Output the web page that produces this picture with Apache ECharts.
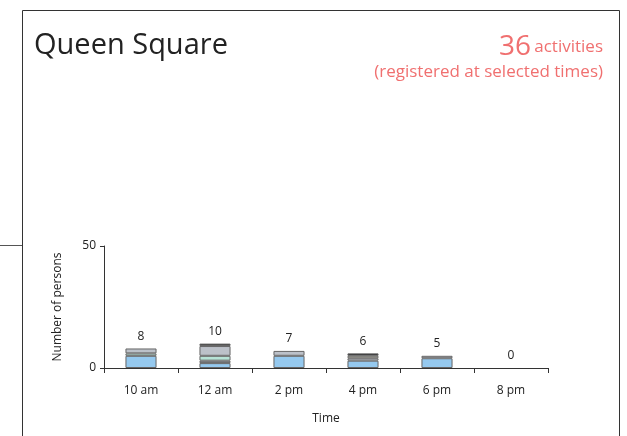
<!DOCTYPE html>
<html><head><meta charset="utf-8">
<script src="https://cdn.jsdelivr.net/npm/echarts@6/dist/echarts.min.js"></script>
<style>html,body{margin:0;padding:0;background:#fff}#c{width:627px;height:436px}</style>
</head><body><div id="c"></div>
<script>
const categories = ['10 am', '12 am', '2 pm', '4 pm', '6 pm', '8 pm'];
const blue     = [5, 2, 5, 3, 4, 0];
const darkgray = [0, 1, 0, 0, 0, 0];
const teal     = [1, 2, 0, 0, 0, 0];
const gray     = [2, 4, 2, 1, 1, 0];
const cream    = [0, 0, 0, 1, 0, 0];
const black    = [0, 1, 0, 1, 0, 0];
const totals   = [8, 10, 7, 6, 5, 0];
const yTicks   = [0, 50];

const font = 'Open Sans';
const layers = [
  ['blue', blue, '#95c9ef'],
  ['darkgray', darkgray, '#8a949e'],
  ['teal', teal, '#b7e3d6'],
  ['gray', gray, '#bcc1c9'],
  ['cream', cream, '#f2eed2'],
  ['black', black, '#222222']
];
const series = layers.map(([name, data, color]) => ({
  name, type: 'bar', stack: 's', data: data.map(v => (v === 0 ? null : v)), barWidth: '42%',
  itemStyle: { color, borderColor: '#666', borderWidth: 1 },
  emphasis: { disabled: true }, silent: true
}));
series.push({
  name: 'total', type: 'bar', stack: 's', data: totals.map(() => 0), barWidth: '42%',
  itemStyle: { color: 'transparent', borderWidth: 0 }, silent: true,
  label: { show: true, position: 'top', distance: 6, color: '#222', fontSize: 12, fontFamily: font,
           formatter: p => String(totals[p.dataIndex]) }
});

const chart = echarts.init(document.getElementById('c'), null, { renderer: 'canvas' });
chart.setOption({
  animation: false,
  backgroundColor: '#fff',
  grid: { left: 104, right: 79, top: 246, bottom: 68 },
  xAxis: {
    type: 'category', data: categories, name: 'Time', nameLocation: 'middle', nameGap: 45,
    nameTextStyle: { color: '#222', fontSize: 12, fontFamily: font },
    axisLine: { lineStyle: { color: '#333' } },
    axisTick: { show: true, length: 5, lineStyle: { color: '#333' } },
    axisLabel: { color: '#222', fontSize: 12, fontFamily: font, margin: 17 }
  },
  yAxis: {
    type: 'value', min: yTicks[0], max: yTicks[1], interval: 50,
    name: 'Number of persons', nameLocation: 'middle', nameGap: 40, nameRotate: 90,
    nameTextStyle: { color: '#222', fontSize: 12, fontFamily: font },
    axisLine: { show: true, lineStyle: { color: '#333' } },
    axisTick: { show: true, length: 4, lineStyle: { color: '#333' } },
    splitLine: { show: false },
    axisLabel: { color: '#222', fontSize: 12, fontFamily: font, margin: 8 }
  },
  series,
  graphic: [
    { type: 'polyline', shape: { points: [[22.5, 436], [22.5, 10.5], [619.5, 10.5], [619.5, 436]] },
      style: { stroke: '#333', lineWidth: 1, fill: null }, silent: true },
    { type: 'line', shape: { x1: 0, y1: 245.5, x2: 22, y2: 245.5 }, style: { stroke: '#555', lineWidth: 1 }, silent: true },
    { type: 'text', left: 34, top: 31, style: { text: 'Queen Square', fontSize: 29, fontFamily: font, fill: '#222' } },
    { type: 'text', right: 24, top: 33, style: {
        rich: { big: { fontSize: 28, fill: '#f07070', fontFamily: font }, sm: { fontSize: 17, fill: '#f07070', fontFamily: font } },
        text: '{big|36} {sm|activities}', fill: '#f07070' } },
    { type: 'text', right: 24, top: 64, style: { text: '(registered at selected times)', fontSize: 17, fontFamily: font, fill: '#f07070' } }
  ]
});
</script></body></html>
